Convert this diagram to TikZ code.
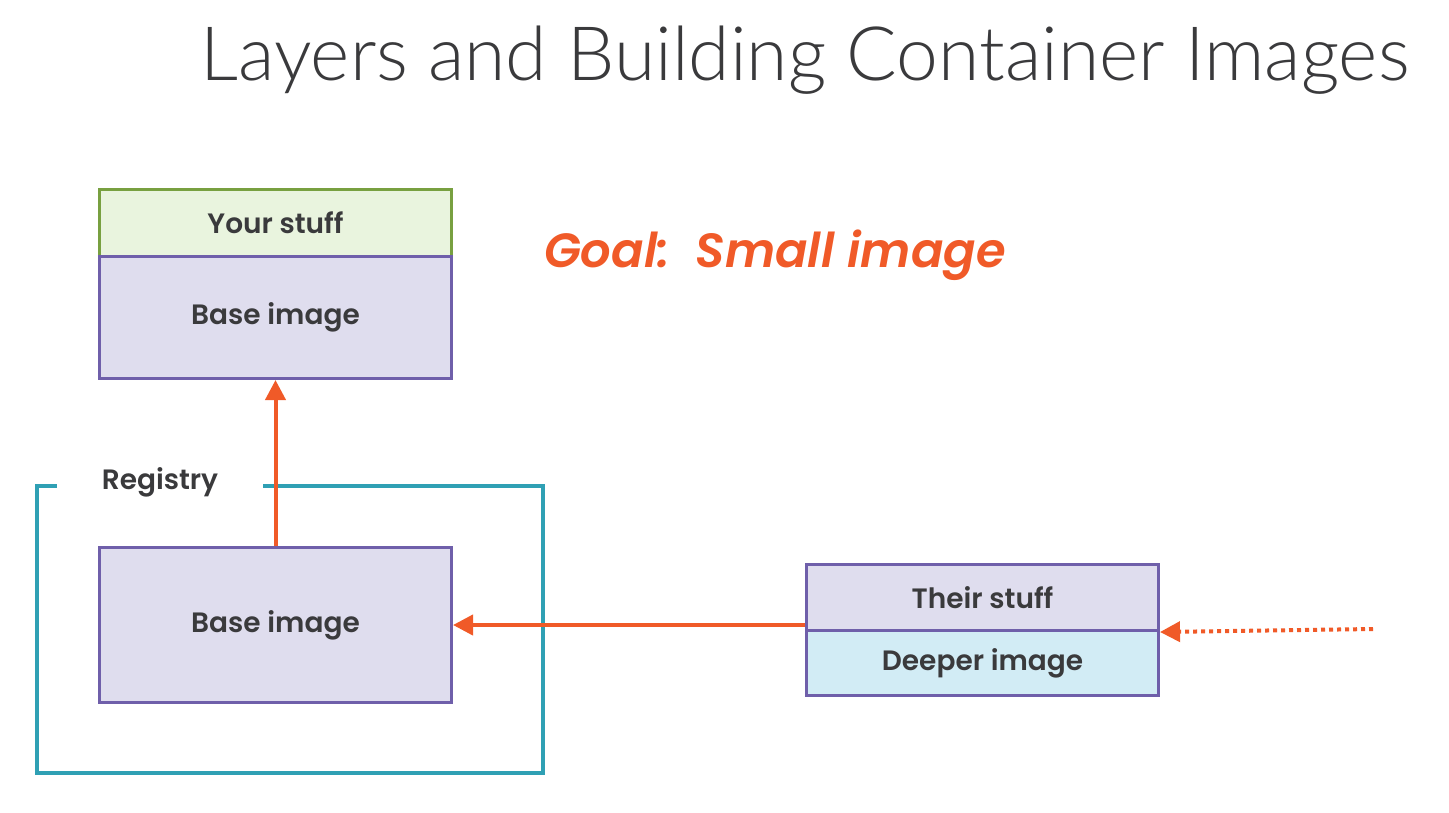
\documentclass[tikz,border=0pt]{standalone}
\usepackage{fontspec}
\setmainfont{Poppins}[BoldFont={* SemiBold},BoldItalicFont={* SemiBold Italic}]
\newfontfamily\titlefont{Lato}[UprightFont={* Light}]
\usetikzlibrary{arrows.meta}
\definecolor{txt}{HTML}{3A3A3C}
\definecolor{org}{HTML}{F05A28}
\definecolor{teal}{HTML}{2FA0B4}
\definecolor{purp}{HTML}{6F5FAA}
\definecolor{purpfill}{HTML}{DFDDEE}
\definecolor{grn}{HTML}{78A040}
\definecolor{grnfill}{HTML}{E9F4DE}
\definecolor{bluefill}{HTML}{D2ECF5}
\begin{document}
\begin{tikzpicture}[x=1pt,y=-1pt,
  layer/.style={draw=purp,line width=3pt,fill=purpfill,text=txt,font=\fontsize{28}{30}\selectfont\bfseries,inner sep=0pt,anchor=north west},
  conn/.style={draw=org,line width=4pt,-{Triangle[length=20pt,width=20pt]}},
]
\useasboundingbox (0,0) rectangle (1449,812);
\node[text=txt,font=\titlefont\fontsize{75}{80}\selectfont,anchor=base] (title) at (805,80) {Layers and Building Container Images};
\node[text=org,font=\fontsize{48}{52}\selectfont\bfseries\itshape] (goal) at (775,255) {Goal:\ \ Small image};
% top stack
\node[layer,draw=grn,fill=grnfill,minimum width=352pt,minimum height=67pt] (your) at (98,188) {Your stuff};
\node[layer,minimum width=352pt,minimum height=122pt] (base1) at (98,255) {Base image};
% registry frame
\draw[teal,line width=3.5pt] (57,486) -- (37,486) -- (37,773) -- (543,773) -- (543,486) -- (263,486);
\node[text=txt,font=\fontsize{28}{30}\selectfont\bfseries] (reg) at (160,482) {Registry};
\node[layer,minimum width=352pt,minimum height=155pt] (base2) at (98,546) {Base image};
% right stack
\node[layer,minimum width=352pt,minimum height=66pt] (their) at (805,563) {Their stuff};
\node[layer,fill=bluefill,minimum width=352pt,minimum height=65pt] (deeper) at (805,629) {Deeper image};
\coordinate (src) at (1373,629);
% connectors
\draw[conn] (base2.north) -- (base1.south);
\draw[conn] (their.west |- 0,625) -- (base2.east |- 0,625);
\draw[conn,dash pattern=on 4pt off 4pt] (src) -- (their.south east);
\end{tikzpicture}
\end{document}
